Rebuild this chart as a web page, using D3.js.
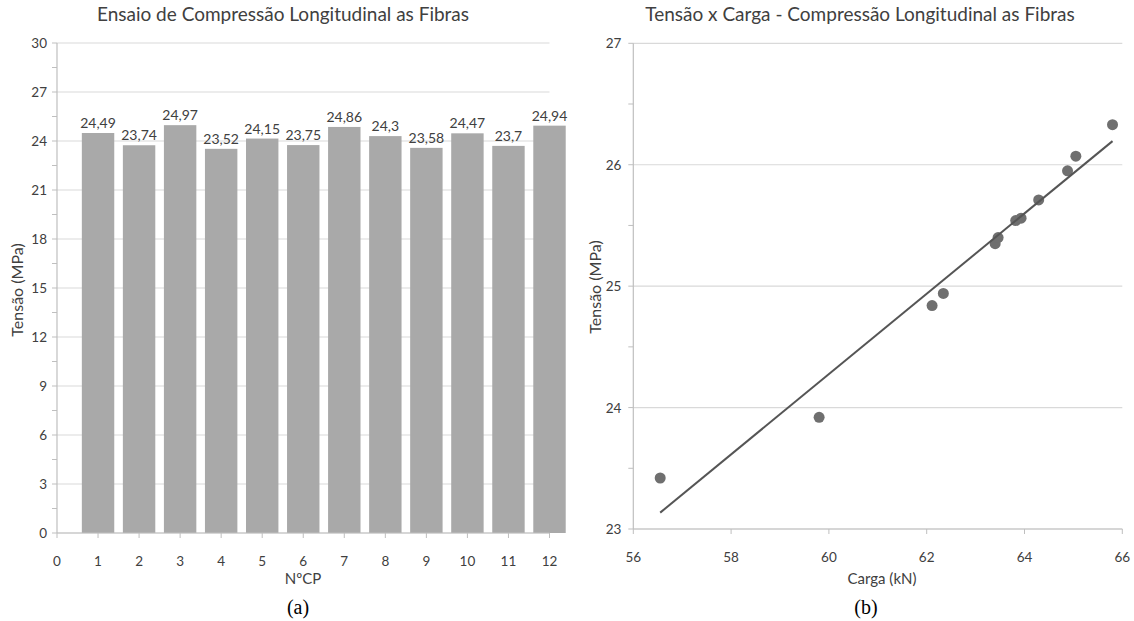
<!DOCTYPE html>
<html>
<head>
<meta charset="utf-8">
<script src="https://cdn.jsdelivr.net/npm/d3@7"></script>
<style>
  html, body { margin: 0; padding: 0; background: #fff; }
  svg { display: block; font-family: Lato, "Open Sans", sans-serif; }
</style>
</head>
<body>
<svg id="chart" width="1134" height="621"></svg>
<script>
// ---- Data (a) ----
const cpNumbers = [1, 2, 3, 4, 5, 6, 7, 8, 9, 10, 11, 12];
const tensaoCP = [24.49, 23.74, 24.97, 23.52, 24.15, 23.75, 24.86, 24.3, 23.58, 24.47, 23.7, 24.94];
const barLabels = ["24,49", "23,74", "24,97", "23,52", "24,15", "23,75", "24,86", "24,3", "23,58", "24,47", "23,7", "24,94"];
const barYTicks = [0, 3, 6, 9, 12, 15, 18, 21, 24, 27, 30];
const barXTicks = [0, 1, 2, 3, 4, 5, 6, 7, 8, 9, 10, 11, 12];

// ---- Data (b) ----
const cargaKN = [56.55, 59.80, 62.11, 62.34, 63.40, 63.46, 63.82, 63.93, 64.29, 64.88, 65.05, 65.80];
const tensaoMPa = [23.42, 23.92, 24.84, 24.94, 25.35, 25.40, 25.54, 25.56, 25.71, 25.95, 26.07, 26.33];
const scatterXTicks = [56, 58, 60, 62, 64, 66];
const scatterYTicks = [23, 24, 25, 26, 27];

const svg = d3.select("#chart");
const textColor = "#404040";
const gridColor = "#d9d9d9";
const axisColor = "#bfbfbf";
const serif = "'Liberation Serif', 'Times New Roman', serif";

// ================= Chart (a) =================
{
  const x = d3.scaleLinear().domain([0, 12]).range([57, 549.5]);
  const y = d3.scaleLinear().domain([0, 30]).range([533, 43]);
  const g = svg.append("g");

  g.selectAll("line.grid").data(barYTicks).join("line")
    .attr("x1", x(0)).attr("x2", x(12))
    .attr("y1", d => y(d)).attr("y2", d => y(d))
    .attr("stroke", gridColor).attr("stroke-width", 1.2);

  const minor = d3.range(0, 30.01, 1.5);
  g.selectAll("line.minor").data(minor).join("line")
    .attr("x1", x(0) - 5).attr("x2", x(0))
    .attr("y1", d => y(d)).attr("y2", d => y(d))
    .attr("stroke", axisColor).attr("stroke-width", 1);

  g.append("line").attr("x1", x(0)).attr("x2", x(0)).attr("y1", y(30)).attr("y2", y(0))
    .attr("stroke", axisColor).attr("stroke-width", 1.2);

  const bw = 0.79;
  g.selectAll("rect.bar").data(cpNumbers).join("rect")
    .attr("x", (d) => x(d - bw / 2))
    .attr("width", x(bw) - x(0))
    .attr("y", (d, i) => y(tensaoCP[i]))
    .attr("height", (d, i) => y(0) - y(tensaoCP[i]))
    .attr("fill", "#a9a9a9");

  g.append("line").attr("x1", x(0)).attr("x2", x(12)).attr("y1", y(0)).attr("y2", y(0))
    .attr("stroke", axisColor).attr("stroke-width", 1.2);
  g.selectAll("line.xt").data(barXTicks).join("line")
    .attr("x1", d => x(d)).attr("x2", d => x(d))
    .attr("y1", y(0)).attr("y2", y(0) + 5)
    .attr("stroke", axisColor).attr("stroke-width", 1);

  g.selectAll("text.lbl").data(cpNumbers).join("text")
    .attr("x", d => x(d))
    .attr("y", (d, i) => y(tensaoCP[i]) - 5)
    .attr("text-anchor", "middle")
    .attr("font-size", 14).attr("fill", textColor)
    .text((d, i) => barLabels[i]);

  g.selectAll("text.yt").data(barYTicks).join("text")
    .attr("x", x(0) - 10).attr("y", d => y(d) + 5)
    .attr("text-anchor", "end").attr("font-size", 13.5).attr("fill", textColor)
    .text(d => d);

  g.selectAll("text.xtl").data(barXTicks).join("text")
    .attr("x", d => x(d)).attr("y", 566)
    .attr("text-anchor", "middle").attr("font-size", 13.5).attr("fill", textColor)
    .text(d => d);

  g.append("text").attr("x", 283).attr("y", 21).attr("text-anchor", "middle")
    .attr("font-size", 19).attr("fill", textColor)
    .text("Ensaio de Compressão Longitudinal as Fibras");
  g.append("text").attr("x", 303).attr("y", 584).attr("text-anchor", "middle")
    .attr("font-size", 15).attr("fill", textColor).text("NºCP");
  g.append("text").attr("transform", "translate(23,290) rotate(-90)")
    .attr("text-anchor", "middle").attr("font-size", 16).attr("fill", textColor)
    .text("Tensão (MPa)");
  g.append("text").attr("x", 298).attr("y", 614).attr("text-anchor", "middle")
    .style("font-family", serif)
    .attr("font-size", 20).attr("fill", "#000").text("(a)");
}

// ================= Chart (b) =================
{
  const x = d3.scaleLinear().domain([56, 66]).range([633.3, 1122.3]);
  const y = d3.scaleLinear().domain([23, 27]).range([529, 43.3]);
  const g = svg.append("g");

  g.selectAll("line.grid").data(scatterYTicks).join("line")
    .attr("x1", x(56)).attr("x2", x(66))
    .attr("y1", d => y(d)).attr("y2", d => y(d))
    .attr("stroke", gridColor).attr("stroke-width", 1.2);

  const minor = d3.range(23, 27.01, 0.5);
  g.selectAll("line.minor").data(minor).join("line")
    .attr("x1", x(56) - 5).attr("x2", x(56))
    .attr("y1", d => y(d)).attr("y2", d => y(d))
    .attr("stroke", axisColor).attr("stroke-width", 1);

  g.append("line").attr("x1", x(56)).attr("x2", x(56)).attr("y1", y(27)).attr("y2", y(23))
    .attr("stroke", axisColor).attr("stroke-width", 1.2);
  g.append("line").attr("x1", x(56)).attr("x2", x(66)).attr("y1", y(23)).attr("y2", y(23))
    .attr("stroke", axisColor).attr("stroke-width", 1.2);
  g.selectAll("line.xt").data(scatterXTicks).join("line")
    .attr("x1", d => x(d)).attr("x2", d => x(d))
    .attr("y1", y(23)).attr("y2", y(23) + 5)
    .attr("stroke", axisColor).attr("stroke-width", 1);

  g.selectAll("circle").data(cargaKN).join("circle")
    .attr("cx", d => x(d))
    .attr("cy", (d, i) => y(tensaoMPa[i]))
    .attr("r", 5.5)
    .attr("fill", "#6f6f6f");

  // linear trendline (least squares over the data range)
  const mx = d3.mean(cargaKN), my = d3.mean(tensaoMPa);
  let sxy = 0, sxx = 0;
  cargaKN.forEach((v, i) => { sxy += (v - mx) * (tensaoMPa[i] - my); sxx += (v - mx) * (v - mx); });
  const slope = sxy / sxx, icpt = my - slope * mx;
  const [x0, x1] = d3.extent(cargaKN);
  g.append("line")
    .attr("x1", x(x0)).attr("y1", y(icpt + slope * x0))
    .attr("x2", x(x1)).attr("y2", y(icpt + slope * x1))
    .attr("stroke", "#555").attr("stroke-width", 2);

  g.selectAll("text.yt").data(scatterYTicks).join("text")
    .attr("x", x(56) - 12).attr("y", d => y(d) + 5)
    .attr("text-anchor", "end").attr("font-size", 13.5).attr("fill", textColor)
    .text(d => d);
  g.selectAll("text.xtl").data(scatterXTicks).join("text")
    .attr("x", d => x(d)).attr("y", 562)
    .attr("text-anchor", "middle").attr("font-size", 13.5).attr("fill", textColor)
    .text(d => d);

  g.append("text").attr("x", 860).attr("y", 21).attr("text-anchor", "middle")
    .attr("font-size", 19).attr("fill", textColor)
    .text("Tensão x Carga - Compressão Longitudinal as Fibras");
  g.append("text").attr("x", 882).attr("y", 584).attr("text-anchor", "middle")
    .attr("font-size", 15).attr("fill", textColor).text("Carga (kN)");
  g.append("text").attr("transform", "translate(601,287) rotate(-90)")
    .attr("text-anchor", "middle").attr("font-size", 16).attr("fill", textColor)
    .text("Tensão (MPa)");
  g.append("text").attr("x", 866).attr("y", 614).attr("text-anchor", "middle")
    .style("font-family", serif)
    .attr("font-size", 20).attr("fill", "#000").text("(b)");
}
</script>
</body>
</html>
